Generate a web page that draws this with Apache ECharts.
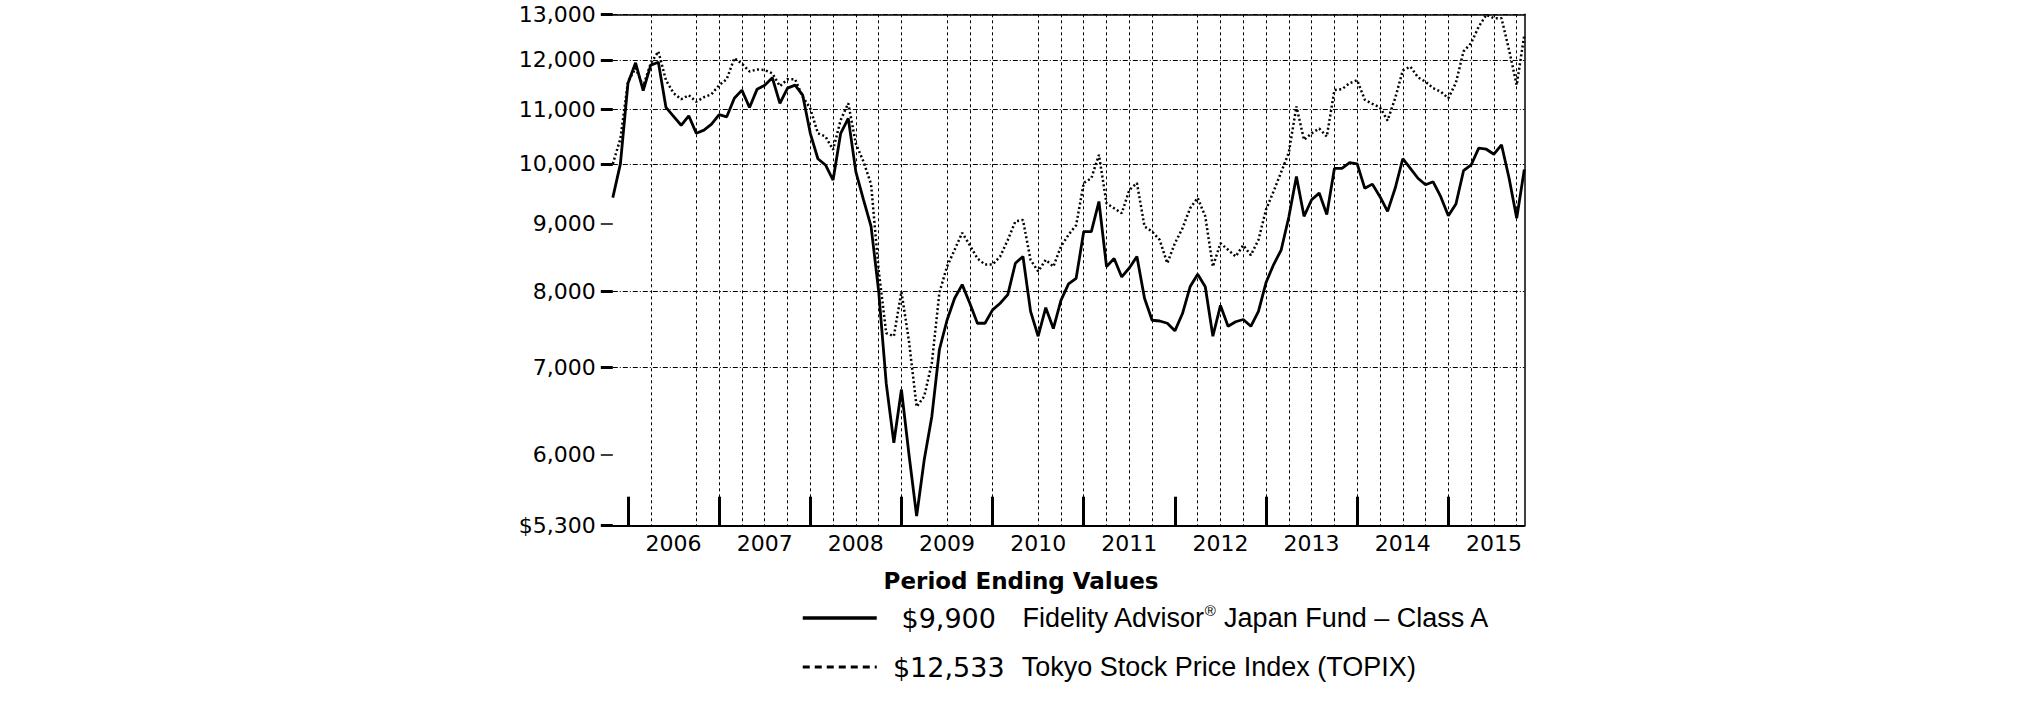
<!DOCTYPE html>
<html><head><meta charset="utf-8">
<script src="https://cdn.jsdelivr.net/npm/echarts@6/dist/echarts.min.js"></script>
<style>html,body{margin:0;padding:0;background:#fff}#c{width:2026px;height:711px}</style>
</head><body><div id="c"></div>
<script>
const months = ['2005-10','2005-11','2005-12',
'2006-01','2006-02','2006-03','2006-04','2006-05','2006-06','2006-07','2006-08','2006-09','2006-10','2006-11','2006-12',
'2007-01','2007-02','2007-03','2007-04','2007-05','2007-06','2007-07','2007-08','2007-09','2007-10','2007-11','2007-12',
'2008-01','2008-02','2008-03','2008-04','2008-05','2008-06','2008-07','2008-08','2008-09','2008-10','2008-11','2008-12',
'2009-01','2009-02','2009-03','2009-04','2009-05','2009-06','2009-07','2009-08','2009-09','2009-10','2009-11','2009-12',
'2010-01','2010-02','2010-03','2010-04','2010-05','2010-06','2010-07','2010-08','2010-09','2010-10','2010-11','2010-12',
'2011-01','2011-02','2011-03','2011-04','2011-05','2011-06','2011-07','2011-08','2011-09','2011-10','2011-11','2011-12',
'2012-01','2012-02','2012-03','2012-04','2012-05','2012-06','2012-07','2012-08','2012-09','2012-10','2012-11','2012-12',
'2013-01','2013-02','2013-03','2013-04','2013-05','2013-06','2013-07','2013-08','2013-09','2013-10','2013-11','2013-12',
'2014-01','2014-02','2014-03','2014-04','2014-05','2014-06','2014-07','2014-08','2014-09','2014-10','2014-11','2014-12',
'2015-01','2015-02','2015-03','2015-04','2015-05','2015-06','2015-07','2015-08','2015-09','2015-10'];

const fundName = 'Fidelity Advisor® Japan Fund – Class A';
const topixName = 'Tokyo Stock Price Index (TOPIX)';

const fundValues = [
9425,10000,11520,11940,11370,11890,11950,11040,10870,10700,
10880,10550,10610,10720,10900,10860,11220,11380,11040,11400,
11480,11630,11120,11420,11480,11280,10550,10090,9980,9720,
10550,10830,9860,9390,8960,8000,6800,6130,6730,6000,
5390,5950,6420,7220,7600,7900,8090,7830,7560,7560,
7740,7830,7950,8400,8500,7720,7390,7770,7490,7870,
8100,8180,8880,8880,9360,8350,8470,8200,8330,8500,
7900,7600,7590,7560,7460,7690,8060,8240,8060,7390,
7800,7520,7580,7610,7520,7720,8120,8380,8600,9110,
9780,9120,9390,9500,9150,9920,9920,10020,10000,9580,
9650,9440,9200,9580,10090,9920,9750,9640,9690,9440,
9130,9320,9880,9980,10280,10260,10170,10340,9750,9090,
9900];

const topixValues = [
10000,10450,11550,11830,11460,11930,12180,11580,11320,11200,
11280,11150,11240,11300,11480,11600,12040,11920,11760,11800,
11790,11720,11460,11600,11600,11250,11020,10550,10490,10250,
10800,11120,10360,10040,9650,8300,7430,7390,7990,7320,
6530,6650,7050,7980,8350,8600,8860,8670,8470,8380,
8380,8500,8750,9040,9060,8450,8280,8450,8350,8650,
8830,8980,9670,9750,10160,9330,9250,9170,9550,9670,
8960,8880,8750,8400,8700,8930,9250,9420,9120,8350,
8700,8600,8500,8670,8520,8750,9230,9530,9860,10200,
11060,10430,10550,10640,10490,11380,11400,11520,11580,11190,
11110,11040,10790,11220,11780,11860,11640,11550,11420,11350,
11220,11530,12180,12360,12720,12990,12910,12910,12210,11480,
12533];

const endingValues = ['$9,900', '$12,533'];
const yearLabels = ['2006','2007','2008','2009','2010','2011','2012','2013','2014','2015'];
const yTickValues = [5300,6000,7000,8000,9000,10000,11000,12000,13000];
const yTickLabels = ['$5,300','6,000','7,000','8,000','9,000','10,000','11,000','12,000','13,000'];
const yMajorTicks = [5300,7000,8000,10000,11000,12000,13000];
const yMinorTicks = [6000,9000];
const missingGrid = [8,41,53,74];

const chart = echarts.init(document.getElementById('c'), null, {renderer:'svg', width:2026, height:711});
const FONT = 'DejaVu Sans';
const hiddenSymbol = {color: 'rgba(0,0,0,0)', borderWidth: 0, opacity: 0};
const option = {
  animation: false,
  backgroundColor: '#fff',
  title: {
    text: 'Period Ending Values', left: 1016, top: 564, textAlign: 'center',
    textStyle: {fontFamily: FONT, fontWeight: 'bold', fontSize: 23, color: '#000'}
  },
  legend: {
    orient: 'vertical', left: 801, top: 603, padding: 0, itemWidth: 74, itemHeight: 30, itemGap: 22,
    selectedMode: false,
    data: [
      {name: fundName, lineStyle: {width: 3.5, type: 'solid', color: '#000'}, itemStyle: hiddenSymbol},
      {name: topixName, lineStyle: {width: 3, type: [7,5], color: '#000'}, itemStyle: hiddenSymbol}
    ],
    formatter: function (name) {
      const v = endingValues[name === fundName ? 0 : 1];
      const parts = name.split('®');
      let n = '{n0|' + parts[0] + '}';
      if (parts.length > 1) n += '{s|®}{n|' + parts[1] + '}';
      return '{v|' + v + '}' + n;
    },
    textStyle: {
      color: '#000',
      rich: {
        v: {fontFamily: FONT, fontSize: 27, width: 134, align: 'right', color: '#000', lineHeight: 30},
        n0: {fontFamily: 'Liberation Sans', fontSize: 27, color: '#000', lineHeight: 30, padding: [0,0,0,6]},
        n: {fontFamily: 'Liberation Sans', fontSize: 27, color: '#000', lineHeight: 30},
        s: {fontFamily: 'Liberation Sans', fontSize: 15, color: '#000', lineHeight: 30, verticalAlign: 'top', padding: [0,0,10,0]}
      }
    }
  },
  grid: {left: 612.8, top: 14.3, width: 911.5, height: 511.4, containLabel: false},
  xAxis: [{
    type: 'category', data: months, boundaryGap: false,
    axisLine: {lineStyle: {color: '#000', width: 2}},
    axisTick: {show: true, inside: true, length: 29, interval: function (i) { return i % 12 === 2; },
      lineStyle: {color: '#000', width: 3}},
    axisLabel: {interval: function (i) { return i % 12 === 8; },
      formatter: function (v, i) { return yearLabels[Math.round((i - 8) / 12)]; },
      fontFamily: FONT, fontSize: 22, color: '#000', margin: 7},
    splitLine: {show: true, interval: function (i) { return i % 3 === 2 && i >= 5 && missingGrid.indexOf(i) < 0; },
      lineStyle: {type: [3,3], color: '#000', width: 1}}
  }, {
    type: 'category', data: months, boundaryGap: false, position: 'top',
    axisLine: {lineStyle: {color: '#000', width: 1.5}},
    axisTick: {show: false}, axisLabel: {show: false}, splitLine: {show: false}
  }],
  yAxis: [{
    type: 'log', logBase: 10, min: 5299.99, max: 13000.01, position: 'left',
    axisLine: {show: false},
    axisTick: {show: true, length: 12, customValues: yMajorTicks, lineStyle: {color: '#000', width: 3}},
    axisLabel: {customValues: yTickValues, margin: 17, fontFamily: FONT, fontSize: 22, color: '#000',
      formatter: function (v) {
        let k = 0;
        for (let j = 0; j < yTickValues.length; j++) if (Math.abs(yTickValues[j] - v) < 1) k = j;
        return yTickLabels[k];
      }},
    splitLine: {show: true, lineStyle: {type: [5,2,1,2], color: '#000', width: 1}}
  }, {
    type: 'log', logBase: 10, min: 5299.99, max: 13000.01, position: 'left', offset: 0,
    axisLine: {show: false},
    axisTick: {show: true, length: 12, customValues: yMinorTicks, lineStyle: {color: '#000', width: 1.5}},
    axisLabel: {show: false}, splitLine: {show: false}
  }, {
    type: 'value', min: 0, max: 1, position: 'right',
    axisLine: {show: true, lineStyle: {color: '#000', width: 1.5}},
    axisTick: {show: false}, axisLabel: {show: false}, splitLine: {show: false}
  }],
  series: [{
    type: 'line', name: fundName, data: fundValues, xAxisIndex: 0, yAxisIndex: 0,
    symbol: 'none', z: 4,
    lineStyle: {color: '#000', width: 2.8}, itemStyle: {color: '#000'}
  }, {
    type: 'line', name: topixName, data: topixValues, xAxisIndex: 0, yAxisIndex: 0,
    symbol: 'none', z: 3,
    lineStyle: {color: '#000', width: 2.5, type: [2,2.5]}, itemStyle: {color: '#000'}
  }]
};
chart.setOption(option);
</script>
</body></html>
